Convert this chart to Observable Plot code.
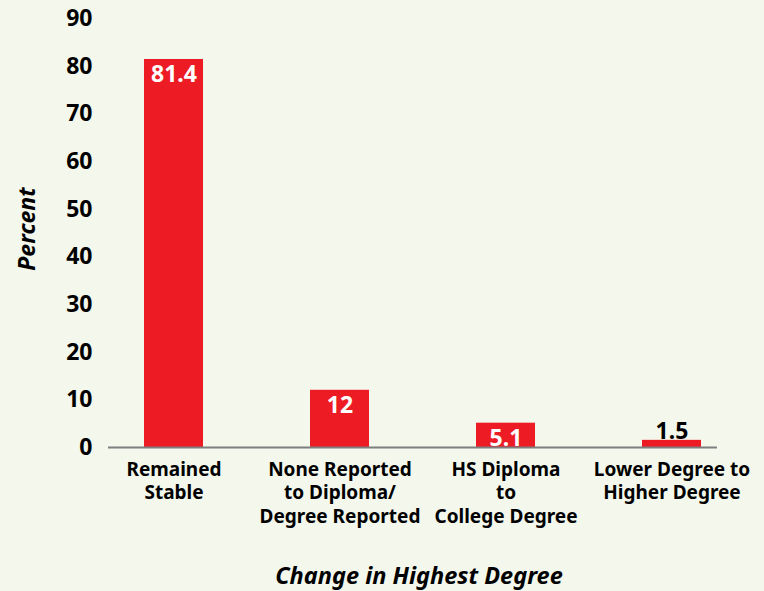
<!DOCTYPE html>
<html><head><meta charset="utf-8">
<script src="https://cdn.jsdelivr.net/npm/d3@7"></script>
<script src="https://cdn.jsdelivr.net/npm/@observablehq/plot@0.6"></script>
<style>html,body{margin:0;padding:0;background:#f3f7ec;}</style>
</head><body><div id="chart"></div>
<script>
const categories = ["Remained\nStable", "None Reported\nto Diploma/\nDegree Reported", "HS Diploma\nto\nCollege Degree", "Lower Degree to\nHigher Degree"];
const values = [81.4, 12, 5.1, 1.5];
const yTicks = [0, 10, 20, 30, 40, 50, 60, 70, 80, 90];
const yTitle = "Percent";
const xTitle = "Change in Highest Degree";

const data = categories.map((c, i) => ({category: c, value: values[i]}));
const inside = data.filter(d => d.value >= 3);
const outside = data.filter(d => d.value < 3);

const chart = Plot.plot({
  width: 764, height: 591,
  marginTop: 18, marginBottom: 144, marginLeft: 108, marginRight: 47,
  style: {background: "#f3f7ec", fontFamily: "'Noto Sans', sans-serif", color: "#000"},
  x: {domain: categories, range: [143, 702], paddingInner: 0.646, paddingOuter: 0, label: null},
  y: {domain: [0, 90], label: null},
  marks: [
    Plot.axisY({ticks: yTicks, tickSize: 0, tickPadding: 16, fontSize: 23, fontWeight: "bold", label: null}),
    Plot.axisX({tickSize: 0, tickPadding: 11, fontSize: 19, fontWeight: "bold", lineHeight: 1.26, label: null}),
    Plot.barY(data, {x: "category", y: "value", fill: "#ed1c24"}),
    Plot.ruleY([0], {stroke: "#7f7f7f", strokeWidth: 2}),
    Plot.text(inside, {x: "category", y: "value", text: d => String(d.value), lineAnchor: "top", dy: 6, fill: "white", fontSize: 23, fontWeight: "bold"}),
    Plot.text(outside, {x: "category", y: "value", text: d => String(d.value), lineAnchor: "bottom", dy: -1, fill: "black", fontSize: 23, fontWeight: "bold"}),
    Plot.text([yTitle], {frameAnchor: "left", textAnchor: "middle", rotate: -90, dx: -81, dy: -4, fontSize: 23, fontWeight: "bold", fontStyle: "italic"}),
    Plot.text([xTitle], {frameAnchor: "bottom", textAnchor: "middle", dy: 136, dx: 6, fontSize: 23.5, fontWeight: "bold", fontStyle: "italic"})
  ]
});
document.getElementById("chart").append(chart);
</script>
</body></html>
